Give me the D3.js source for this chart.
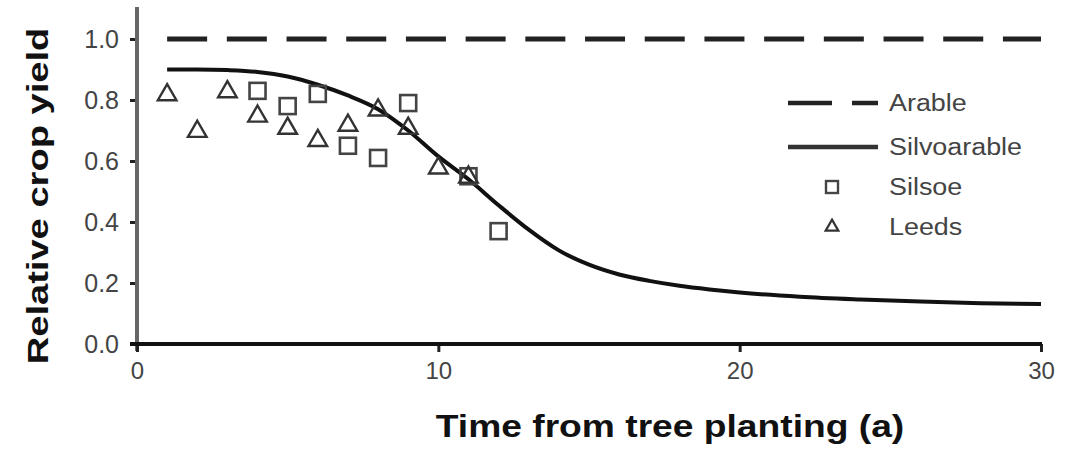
<!DOCTYPE html>
<html>
<head>
<meta charset="utf-8">
<script src="https://cdn.jsdelivr.net/npm/d3@7"></script>
<style>
  html, body { margin: 0; padding: 0; background: #fff; }
  svg { display: block; font-family: "Liberation Sans", Arial, sans-serif; }
</style>
</head>
<body>
<svg id="chart" width="1068" height="453"></svg>
<script>
// ---- data ----
const silvoX = [1, 2, 3, 4, 5, 6, 7, 8, 9, 10, 11, 12, 13, 14, 15, 16, 17, 18, 19, 20, 22, 24, 26, 28, 30];
const silvoY = [0.90, 0.90, 0.898, 0.892, 0.877, 0.850, 0.815, 0.770, 0.700, 0.615, 0.540, 0.455, 0.375, 0.307, 0.260, 0.228, 0.207, 0.191, 0.179, 0.169, 0.155, 0.146, 0.139, 0.134, 0.131];
const arableX = [1, 30];
const arableY = [1.0, 1.0];
const silsoeX = [4, 5, 6, 7, 8, 9, 11, 12];
const silsoeY = [0.83, 0.78, 0.82, 0.65, 0.61, 0.79, 0.55, 0.37];
const leedsX = [1, 2, 3, 4, 5, 6, 7, 8, 9, 10, 11];
const leedsY = [0.82, 0.70, 0.83, 0.75, 0.71, 0.67, 0.72, 0.77, 0.71, 0.58, 0.55];
const xTicks = [0, 10, 20, 30];
const yTicks = [0, 0.2, 0.4, 0.6, 0.8, 1.0];
const legendLabels = ["Arable", "Silvoarable", "Silsoe", "Leeds"];
const xTitle = "Time from tree planting (a)";
const yTitle = "Relative crop yield";

// ---- layout ----
const svg = d3.select("#chart");
const x = d3.scaleLinear().domain([0, 30]).range([137, 1041]);
const y = d3.scaleLinear().domain([0, 1]).range([344, 39]);

// y axis
const yAxis = d3.axisLeft(y).tickValues(yTicks).tickFormat(d3.format(".1f")).tickSize(7).tickPadding(11);
const gy = svg.append("g").attr("transform", "translate(137,0)").call(yAxis);
gy.select(".domain").remove();
gy.selectAll(".tick line").attr("stroke", "#222").attr("stroke-width", 3);
gy.selectAll(".tick text").attr("font-size", 25).attr("fill", "#444")
  .attr("font-family", "'Liberation Sans', Arial, sans-serif");
svg.append("line").attr("x1", 137).attr("x2", 137).attr("y1", 7).attr("y2", 351)
  .attr("stroke", "#666").attr("stroke-width", 4);

// x axis
const xAxis = d3.axisBottom(x).tickValues(xTicks).tickFormat(d3.format("d")).tickSize(8).tickPadding(10);
const gx = svg.append("g").attr("transform", "translate(0,344)").call(xAxis);
gx.select(".domain").remove();
gx.selectAll(".tick line").attr("stroke", "#222").attr("stroke-width", 3);
gx.selectAll(".tick text").attr("font-size", 24).attr("fill", "#444")
  .attr("font-family", "'Liberation Sans', Arial, sans-serif");
svg.append("line").attr("x1", 130).attr("x2", 1042).attr("y1", 344).attr("y2", 344)
  .attr("stroke", "#111").attr("stroke-width", 4);

// titles (stretched horizontally like the reference)
svg.append("g").attr("transform", "translate(670,437) scale(1.2,1)")
  .append("text").attr("text-anchor", "middle").attr("font-size", 31).attr("font-weight", "bold")
  .attr("fill", "#111").text(xTitle);
svg.append("g").attr("transform", "translate(48,196) rotate(-90) scale(1.27,1)")
  .append("text").attr("text-anchor", "middle").attr("font-size", 30).attr("font-weight", "bold")
  .attr("fill", "#111").text(yTitle);

// arable dashed line
const line = d3.line().x(d => x(d[0])).y(d => y(d[1]));
svg.append("path").datum(d3.zip(arableX, arableY)).attr("d", line)
  .attr("fill", "none").attr("stroke", "#222").attr("stroke-width", 5).attr("stroke-dasharray", "40,19.7");

// silvoarable curve
const curve = d3.line().x(d => x(d[0])).y(d => y(d[1])).curve(d3.curveMonotoneX);
svg.append("path").datum(d3.zip(silvoX, silvoY)).attr("d", curve)
  .attr("fill", "none").attr("stroke", "#111").attr("stroke-width", 4);

// markers
const sq = 16, tri = d3.symbol().type(d3.symbolTriangle).size(150);
svg.append("g").selectAll("rect").data(d3.zip(silsoeX, silsoeY)).join("rect")
  .attr("x", d => x(d[0]) - sq / 2).attr("y", d => y(d[1]) - sq / 2)
  .attr("width", sq).attr("height", sq)
  .attr("fill", "none").attr("stroke", "#444").attr("stroke-width", 2.6);
svg.append("g").selectAll("path").data(d3.zip(leedsX, leedsY)).join("path")
  .attr("transform", d => `translate(${x(d[0])},${y(d[1]) + 1})`)
  .attr("d", tri)
  .attr("fill", "none").attr("stroke", "#333").attr("stroke-width", 2.4);

// legend
const lg = svg.append("g");
lg.append("line").attr("x1", 788).attr("x2", 878).attr("y1", 103).attr("y2", 103)
  .attr("stroke", "#222").attr("stroke-width", 4.5).attr("stroke-dasharray", "44,20");
lg.append("line").attr("x1", 788).attr("x2", 878).attr("y1", 147).attr("y2", 147)
  .attr("stroke", "#333").attr("stroke-width", 4.5);
lg.append("rect").attr("x", 832 - 6).attr("y", 187 - 6).attr("width", 12).attr("height", 12)
  .attr("fill", "none").attr("stroke", "#444").attr("stroke-width", 2.4);
lg.append("path").attr("transform", "translate(832,227)").attr("d", d3.symbol().type(d3.symbolTriangle).size(70))
  .attr("fill", "none").attr("stroke", "#333").attr("stroke-width", 2.2);
const legendY = [103, 147, 187, 227];
legendLabels.forEach((t, i) => {
  lg.append("g").attr("transform", `translate(889,${legendY[i] + 8}) scale(1.17,1)`)
    .append("text").attr("font-size", 23).attr("fill", "#444").text(t);
});
</script>
</body>
</html>
